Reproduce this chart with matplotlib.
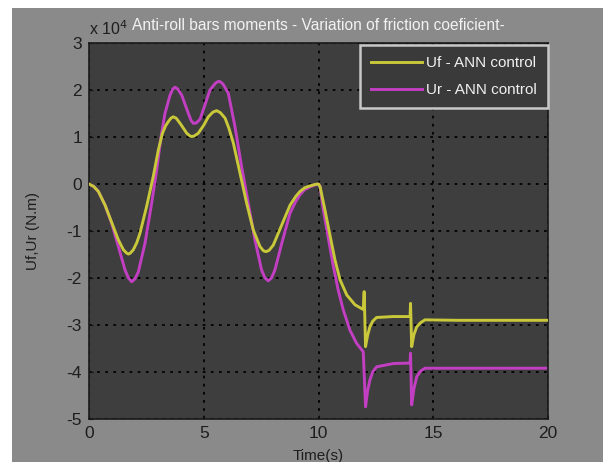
import numpy as np
import matplotlib
matplotlib.use("Agg")
import matplotlib.pyplot as plt
import matplotlib.patches as patches

plt.rcParams['font.family'] = ['Liberation Sans', 'DejaVu Sans']
plt.rcParams['axes.unicode_minus'] = False

# values, units of 1e4 N.m
t_uf = [0, 0.20, 0.41, 0.70, 0.99, 1.28, 1.50, 1.64, 1.72, 1.80, 1.93, 2.08, 2.22,
        2.51, 2.80, 3.02, 3.20, 3.34, 3.46, 3.57, 3.67, 3.80, 3.97, 4.26, 4.38,
        4.47, 4.58, 4.76, 5.00, 5.20, 5.40, 5.56, 5.72, 5.93, 6.10, 6.29, 6.58,
        6.87, 7.16, 7.45, 7.60, 7.71, 7.85, 8.03, 8.40, 8.76, 9.00, 9.19, 9.40,
        9.63, 9.85, 10.0, 10.07, 10.28, 10.50, 10.72, 10.94, 11.23, 11.59, 11.95,
        11.99, 12.05, 12.14, 12.24, 12.36, 12.53, 13.26, 13.99, 14.01, 14.06,
        14.16, 14.28, 14.45, 14.64, 16.0, 20.0]
uf = [0, -0.05, -0.16, -0.45, -0.82, -1.19, -1.40, -1.47, -1.49, -1.47, -1.40, -1.25, -1.05,
      -0.48, 0.16, 0.72, 1.08, 1.24, 1.33, 1.40, 1.43, 1.40, 1.29, 1.08, 1.03,
      1.01, 1.02, 1.08, 1.25, 1.43, 1.53, 1.56, 1.52, 1.40, 1.18, 0.87, 0.23,
      -0.41, -0.98, -1.33, -1.42, -1.44, -1.41, -1.30, -0.87, -0.45, -0.27, -0.16, -0.08,
      -0.04, -0.01, 0.0, -0.06, -0.55, -1.09, -1.62, -2.04, -2.36, -2.57, -2.67,
      -2.29, -3.46, -3.22, -3.04, -2.92, -2.84, -2.82, -2.82, -2.54, -3.46,
      -3.20, -3.04, -2.95, -2.89, -2.90, -2.90]

t_ur = [0, 0.20, 0.41, 0.70, 0.99, 1.28, 1.57, 1.72, 1.86, 2.00, 2.15, 2.44, 2.73,
        2.95, 3.14, 3.31, 3.53, 3.65, 3.75, 3.87, 4.04, 4.33, 4.45, 4.55, 4.68,
        4.84, 5.05, 5.27, 5.50, 5.62, 5.71, 5.85, 6.07, 6.36, 6.65, 6.94, 7.23,
        7.52, 7.67, 7.81, 7.95, 8.10, 8.40, 8.76, 9.00, 9.19, 9.40, 9.63, 9.85,
        10.0, 10.07, 10.21, 10.43, 10.65, 10.86, 11.08, 11.37, 11.66, 11.95, 12.05,
        12.14, 12.24, 12.36, 12.53, 13.26, 13.99, 14.01, 14.06, 14.16, 14.28,
        14.45, 14.64, 16.0, 20.0]
ur = [0, -0.05, -0.16, -0.45, -0.84, -1.33, -1.83, -2.00, -2.08, -2.02, -1.87, -1.26, -0.41,
      0.30, 1.01, 1.50, 1.89, 2.02, 2.06, 2.02, 1.89, 1.50, 1.35, 1.29, 1.30,
      1.38, 1.68, 2.00, 2.14, 2.18, 2.18, 2.12, 1.93, 1.22, 0.37, -0.41, -1.19,
      -1.83, -2.00, -2.06, -2.00, -1.83, -1.26, -0.62, -0.38, -0.23, -0.12, -0.06, -0.02,
      0.0, -0.06, -0.55, -1.16, -1.76, -2.26, -2.68, -3.11, -3.39, -3.57, -4.74,
      -4.40, -4.17, -4.00, -3.89, -3.82, -3.81, -3.60, -4.70, -4.35, -4.10,
      -3.98, -3.92, -3.92, -3.92]

xticks = [0, 5, 10, 15, 20]
yticks = [-5, -4, -3, -2, -1, 0, 1, 2, 3]

fig = plt.figure(figsize=(6.03, 4.62), dpi=100, facecolor='white')
# grey window area
fig.patches.append(patches.Rectangle((12/603, 0), 1 - 12/603, 1 - 8/462,
                                     transform=fig.transFigure, fc='#8a8a8a',
                                     ec='none', zorder=-10))

ax = fig.add_axes([89/603, 43/462, 459/603, 376/462])
ax.set_facecolor('#3e3e3e')

ax.plot(t_uf, uf, color='#c8c83a', lw=2.1, label='Uf - ANN control', zorder=3)
ax.plot(t_ur, ur, color='#c23ec2', lw=2.1, label='Ur - ANN control', zorder=2)

ax.set_xlim(0, 20)
ax.set_ylim(-5, 3)
ax.set_xticks(xticks)
ax.set_yticks(yticks)
ax.tick_params(direction='in', length=3, color='#111111', labelcolor='#1e1e1e',
               labelsize=12.5, pad=5)
ax.grid(True, color='black', linestyle=(0, (1.5, 3)), lw=1.3)
for s in ax.spines.values():
    s.set_color('#1a1a1a')
    s.set_linewidth(1.2)

ax.set_title('Anti-roll bars moments - Variation of friction coeficient-',
             color='#f2f2f2', fontsize=11.2, pad=9)
ax.text(0.0, 1.012, r'x 10$^{4}$', transform=ax.transAxes, fontsize=11.5,
        color='#1e1e1e', ha='left', va='bottom')
ax.set_ylabel('Uf,Ur (N.m)', color='#1e1e1e', fontsize=11, labelpad=19)
ax.set_xlabel('Time(s)', color='#1e1e1e', fontsize=11, labelpad=6)

leg = ax.legend(loc='upper right', bbox_to_anchor=(1.004, 1.0), fontsize=11,
                facecolor='#3a3a3a', edgecolor='#c8c8c8', framealpha=1,
                fancybox=False, handlelength=3.3, borderaxespad=0.1,
                borderpad=0.75, labelspacing=0.85, handletextpad=0.3)
leg.get_frame().set_linewidth(1.8)
for txt in leg.get_texts():
    txt.set_color('#f0f0f0')

fig.savefig('out.png', dpi=100, facecolor=fig.get_facecolor())
